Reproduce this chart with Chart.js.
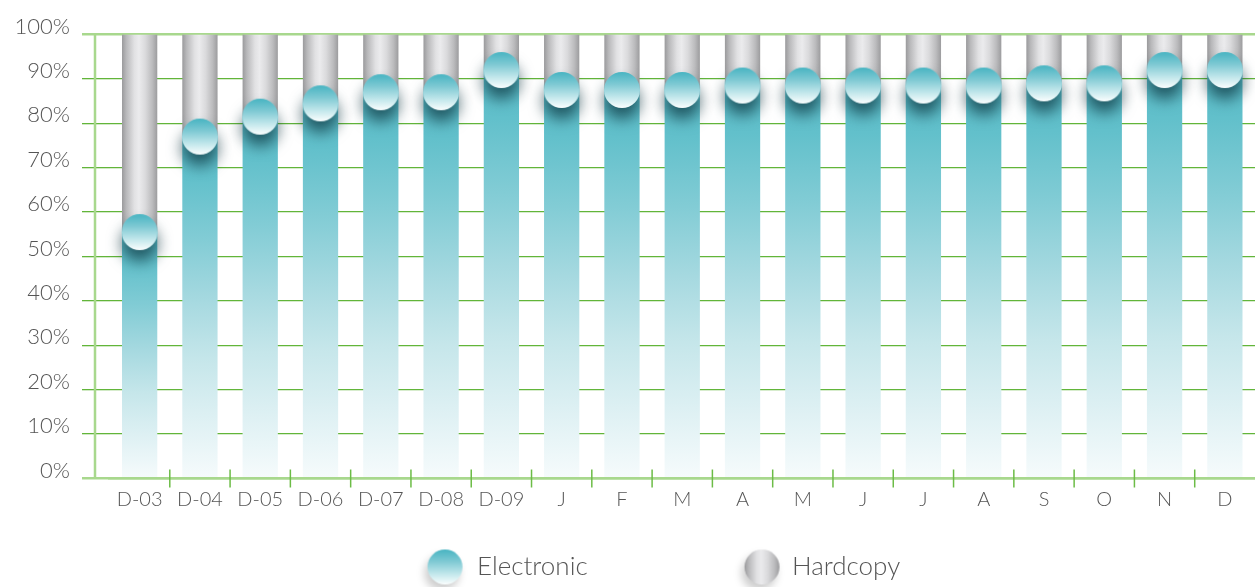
<!DOCTYPE html>
<html>
<head>
<meta charset="utf-8">
<script src="https://cdn.jsdelivr.net/npm/chart.js@4"></script>
<style>
  html, body { margin: 0; padding: 0; background: #fff; }
  #wrap { width: 1255px; height: 587px; }
</style>
</head>
<body>
<div id="wrap"><canvas id="chart"></canvas></div>
<script>
const categories = ['D-03', 'D-04', 'D-05', 'D-06', 'D-07', 'D-08', 'D-09', 'J', 'F', 'M', 'A', 'M', 'J', 'J', 'A', 'S', 'O', 'N', 'D'];
const electronic = [55.5, 77, 81.5, 84.5, 87, 87, 92, 87.5, 87.5, 87.5, 88.5, 88.5, 88.5, 88.5, 88.5, 89, 89, 92, 92];
const hardcopy = [44.5, 23, 18.5, 15.5, 13, 13, 8, 12.5, 12.5, 12.5, 11.5, 11.5, 11.5, 11.5, 11.5, 11, 11, 8, 8];
const seriesNames = ['Electronic', 'Hardcopy'];

const textColor = '#555555';
const family = 'Lato, "Open Sans", sans-serif';
const barPct = 0.585;
const plotLeft = 109.5;
const plotBottom = 478.5;
const xAxisHeight = 24 + 2 * 9;

// legend geometry: the built-in legend spreads items with one padding value,
// so the left layout padding is solved from the measured label widths
const LEG = { fs: 26, textX: [477, 792], discX: [445, 762], right: 1255, padBottom: -3 };
LEG.pad = 587 - LEG.padBottom - plotBottom - xAxisHeight - LEG.fs - 10;
const measure = document.createElement('canvas').getContext('2d');
measure.font = '300 ' + LEG.fs + 'px ' + family;
const tw = seriesNames.map(t => measure.measureText(t).width);
const padLeft = 2 * LEG.textX[0] - LEG.right + tw[0] + tw[1] + LEG.pad;
const boxW = LEG.textX[1] - LEG.textX[0] - LEG.fs / 2 - tw[0] - LEG.pad;
const discShift = i => LEG.discX[i] - (LEG.textX[i] - LEG.fs / 2 - boxW / 2);

function tealDisc(g, cx, cy, r) {
  const lg = g.createLinearGradient(cx, cy - r, cx, cy + r);
  lg.addColorStop(0, '#48b4c2');
  lg.addColorStop(0.35, '#80cad4');
  lg.addColorStop(0.72, '#c6e9ed');
  lg.addColorStop(1, '#fbfefe');
  return lg;
}
function greyStops(lg) {
  lg.addColorStop(0, '#9a9a9c');
  lg.addColorStop(0.12, '#b8b8ba');
  lg.addColorStop(0.35, '#e1e1e3');
  lg.addColorStop(0.48, '#ebebed');
  lg.addColorStop(0.66, '#dadadc');
  lg.addColorStop(0.86, '#bbbbbd');
  lg.addColorStop(1, '#9c9c9e');
  return lg;
}
function greyDisc(g, cx, cy, r) {
  return greyStops(g.createLinearGradient(cx - r, cy, cx + r, cy));
}
function makeDisc(fill, r, shiftX, sh) {
  const c = document.createElement('canvas');
  c.width = Math.round(2 * (Math.abs(shiftX) + r + 30));
  c.height = Math.round(2 * (r + 40));
  const g = c.getContext('2d');
  const cx = c.width / 2 + shiftX, cy = c.height / 2;
  g.shadowColor = sh.color;
  g.shadowBlur = sh.blur;
  g.shadowOffsetX = sh.dx;
  g.shadowOffsetY = sh.dy;
  g.beginPath();
  g.arc(cx, cy, r, 0, Math.PI * 2);
  g.fillStyle = fill(g, cx, cy, r);
  g.fill();
  return c;
}

const marker = makeDisc(tealDisc, 18, 0, { color: 'rgba(10,50,60,0.72)', blur: 15, dx: 0, dy: 11 });
const icons = [
  makeDisc(tealDisc, 17.5, discShift(0), { color: 'rgba(0,0,0,0.2)', blur: 8, dx: -3, dy: 6 }),
  makeDisc(greyDisc, 17.5, discShift(1), { color: 'rgba(0,0,0,0.2)', blur: 8, dx: -3, dy: 6 })
];

function tealFill(ctx) {
  const { chart, dataIndex } = ctx;
  const y = chart.scales && chart.scales.y;
  if (!y || dataIndex === undefined) return '#7fc9d3';
  const top = y.getPixelForValue(electronic[dataIndex]);
  const bottom = y.getPixelForValue(0);
  if (!isFinite(top) || !isFinite(bottom)) return '#7fc9d3';
  const g = chart.ctx.createLinearGradient(0, top, 0, bottom);
  g.addColorStop(0, '#58bbc8');
  g.addColorStop(0.12, '#62c0cb');
  g.addColorStop(0.3, '#82ccd5');
  g.addColorStop(0.48, '#a6d9e0');
  g.addColorStop(0.65, '#c5e6ea');
  g.addColorStop(0.82, '#ddf0f3');
  g.addColorStop(1, '#f6fbfc');
  return g;
}

function greyFill(ctx) {
  const { chart, dataIndex } = ctx;
  const x = chart.scales && chart.scales.x;
  if (!x || dataIndex === undefined) return '#cfcfd1';
  const cx = x.getPixelForValue(dataIndex);
  const half = (x.getPixelForValue(1) - x.getPixelForValue(0)) * barPct / 2;
  if (!isFinite(cx) || !isFinite(half)) return '#cfcfd1';
  return greyStops(chart.ctx.createLinearGradient(cx - half, 0, cx + half, 0));
}

const axisDecor = {
  id: 'axisDecor',
  afterDraw(chart) {
    const { ctx, chartArea, scales: { x, y } } = chart;
    const y0 = y.getPixelForValue(0);
    const y100 = y.getPixelForValue(100);
    ctx.save();
    ctx.strokeStyle = '#a8d88d';
    ctx.lineWidth = 2.5;
    const ax = chartArea.left - 14.5;
    ctx.beginPath();
    ctx.moveTo(ax, y100);
    ctx.lineTo(ax, y0);
    ctx.stroke();
    ctx.strokeStyle = '#6cbc46';
    ctx.lineWidth = 1.5;
    for (let i = 1; i < categories.length; i++) {
      const bx = (x.getPixelForValue(i - 1) + x.getPixelForValue(i)) / 2;
      ctx.beginPath();
      ctx.moveTo(bx, y0 - 9);
      ctx.lineTo(bx, y0 + 9);
      ctx.stroke();
    }
    ctx.restore();
  }
};

new Chart(document.getElementById('chart'), {
  data: {
    labels: categories,
    datasets: [
      {
        type: 'line',
        label: 'marker',
        data: electronic,
        stack: 'markers',
        order: -1,
        showLine: false,
        pointStyle: marker,
        pointRadius: 18,
        pointHoverRadius: 18,
        clip: false
      },
      {
        type: 'bar',
        label: seriesNames[0],
        data: electronic,
        backgroundColor: tealFill,
        borderWidth: 0,
        barPercentage: barPct,
        categoryPercentage: 1
      },
      {
        type: 'bar',
        label: seriesNames[1],
        data: hardcopy,
        backgroundColor: greyFill,
        borderWidth: 0,
        barPercentage: barPct,
        categoryPercentage: 1
      }
    ]
  },
  options: {
    responsive: true,
    maintainAspectRatio: false,
    animation: false,
    events: [],
    layout: {
      autoPadding: false,
      padding: { left: padLeft, right: 0, top: 34.5, bottom: LEG.padBottom }
    },
    scales: {
      x: {
        stacked: true,
        grid: { display: false, drawTicks: false },
        border: { display: true, color: '#a8d88d', width: 2.5, z: 1 },
        ticks: {
          color: textColor,
          padding: 9,
          autoSkip: false,
          maxRotation: 0,
          font: { family: family, size: 20, weight: '300' }
        }
      },
      y: {
        stacked: true,
        min: 0,
        max: 100,
        afterFit: s => { s.width = plotLeft - padLeft; },
        border: { display: false },
        grid: {
          color: c => (c.tick && c.tick.value % 100 === 0) ? '#a8d88d' : '#62b53a',
          lineWidth: c => (c.tick && c.tick.value % 100 === 0) ? 2.5 : 1.3,
          tickLength: 27.5
        },
        ticks: {
          stepSize: 10,
          padding: 12,
          labelOffset: -8,
          color: textColor,
          font: { family: family, size: 22, weight: '300' },
          callback: v => v + '%'
        }
      }
    },
    plugins: {
      tooltip: { enabled: false },
      legend: {
        position: 'bottom',
        labels: {
          usePointStyle: true,
          pointStyleWidth: boxW,
          padding: LEG.pad,
          color: textColor,
          font: { family: family, size: LEG.fs, weight: '300' },
          generateLabels: chart => Chart.defaults.plugins.legend.labels.generateLabels(chart)
            .filter(item => item.datasetIndex > 0)
            .map(item => Object.assign(item, { pointStyle: icons[item.datasetIndex - 1] }))
        }
      }
    }
  },
  plugins: [axisDecor]
});
</script>
</body>
</html>
